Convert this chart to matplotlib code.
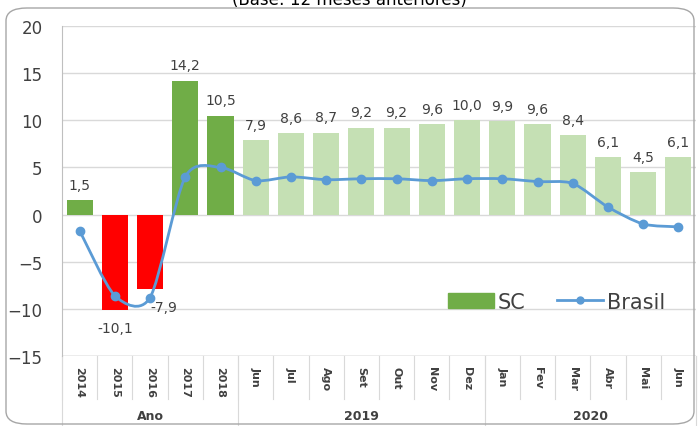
import matplotlib.pyplot as plt
import numpy as np
from matplotlib.path import Path
from matplotlib.patches import PathPatch, FancyBboxPatch
from matplotlib.lines import Line2D
from matplotlib.patches import Patch

# categories shown on the x axis
labels = ['2014', '2015', '2016', '2017', '2018',
          'Jun', 'Jul', 'Ago', 'Set', 'Out', 'Nov', 'Dez',
          'Jan', 'Fev', 'Mar', 'Abr', 'Mai', 'Jun']
groups = [('Ano', 0, 5), ('2019', 5, 12), ('2020', 12, 18)]

# SC (bars) and Brasil (line)
sc = [1.5, -10.1, -7.9, 14.2, 10.5,
      7.9, 8.6, 8.7, 9.2, 9.2, 9.6, 10.0,
      9.9, 9.6, 8.4, 6.1, 4.5, 6.1]
brasil = [-1.7, -8.6, -8.8, 4.0, 5.0,
          3.6, 4.0, 3.7, 3.8, 3.8, 3.6, 3.8,
          3.8, 3.5, 3.3, 0.8, -1.0, -1.3]

GREEN = '#70AD47'
LIGHT = '#C5E0B4'
RED = '#FF0000'
BLUE = '#5B9BD5'
TXT = '#404040'

fig = plt.figure(figsize=(6.99, 4.27), dpi=100)
ax = fig.add_axes([62 / 699, 1 - 357 / 427, 634 / 699, 330 / 427])

x = np.arange(len(labels))
colors = []
for i, v in enumerate(sc):
    if i < 5:
        colors.append(RED if v < 0 else GREEN)
    else:
        colors.append(LIGHT)
ax.bar(x, sc, width=0.74, color=colors, zorder=2)

# value labels
for i, v in enumerate(sc):
    txt = ('%.1f' % v).replace('.', ',')
    if v >= 0:
        ax.annotate(txt, (i, v), xytext=(0, 6), textcoords='offset points',
                    ha='center', va='bottom', fontsize=10, color=TXT)
    else:
        dx = 10 if i == 2 else 0
        ax.annotate(txt, (i, v), xytext=(dx, -8), textcoords='offset points',
                    ha='center', va='top', fontsize=10, color=TXT)

# smooth line for Brasil (Catmull-Rom as cubic bezier)
pts = np.column_stack([x, brasil]).astype(float)
verts = [pts[0]]
codes = [Path.MOVETO]
t = 0.4 / 3
for i in range(len(pts) - 1):
    p0 = pts[i - 1] if i > 0 else pts[i]
    p1 = pts[i]
    p2 = pts[i + 1]
    p3 = pts[i + 2] if i + 2 < len(pts) else pts[i + 1]
    c1 = p1 + (p2 - p0) * t
    c2 = p2 - (p3 - p1) * t
    verts += [c1, c2, p2]
    codes += [Path.CURVE4] * 3
ax.add_patch(PathPatch(Path(verts, codes), fill=False, edgecolor=BLUE,
                       lw=2, zorder=3))
ax.plot(x, brasil, 'o', color=BLUE, ms=6, zorder=4)

ax.set_xlim(-0.5, len(labels) - 0.5)
ax.set_ylim(-15, 20)
ax.set_yticks(range(-15, 21, 5))
ax.yaxis.grid(True, color='#D9D9D9', lw=1, zorder=0)
ax.tick_params(axis='y', labelsize=12, labelcolor=TXT, length=0, pad=14)
for s in ['top', 'right', 'bottom']:
    ax.spines[s].set_visible(False)
ax.spines['left'].set_color('#BFBFBF')
ax.set_xticks([])

# category labels and separators below the axis
trans = ax.get_xaxis_transform()
for i, lab in enumerate(labels):
    ax.text(i, -0.03, lab, transform=trans, rotation=270, ha='center',
            va='top', fontsize=8, fontweight='bold', color=TXT)
for b in range(len(labels) + 1):
    ax.plot([b - 0.5, b - 0.5], [0, -0.13], transform=trans, color='#D9D9D9',
            lw=0.8, clip_on=False)
for name, a, b in groups:
    ax.text((a + b - 1) / 2, -0.18, name, transform=trans, ha='center',
            va='center', fontsize=9, fontweight='bold', color=TXT)
    ax.plot([b - 0.5, b - 0.5], [0, -0.25], transform=trans,
            color='#D9D9D9', lw=0.8, clip_on=False)
ax.plot([-0.5, -0.5], [0, -0.25], transform=trans, color='#D9D9D9',
        lw=0.8, clip_on=False)
ax.axhline(-15, color='#BFBFBF', lw=1)

# legend
handles = [Patch(color=GREEN, label='SC'),
           Line2D([], [], color=BLUE, lw=2, marker='o', ms=5, label='Brasil')]
ax.legend(handles=handles, loc='center', bbox_to_anchor=(0.78, 0.165),
          ncol=2, frameon=False, fontsize=15, labelcolor=TXT,
          handlelength=2.2, handletextpad=0.2, columnspacing=1.5)

# rounded outer frame and subtitle (cut at the top edge, as in the source)
fig.patches.append(FancyBboxPatch((6 / 699, 2 / 427), 688 / 699, 416 / 427,
                                  boxstyle='round,pad=0,rounding_size=0.03',
                                  transform=fig.transFigure, fill=False,
                                  edgecolor='#A6A6A6', lw=1))
fig.text(0.5, 1 - 5 / 427, '(Base: 12 meses anteriores)', ha='center',
         va='baseline', fontsize=12, color='black')

fig.savefig('out.png', dpi=100)
